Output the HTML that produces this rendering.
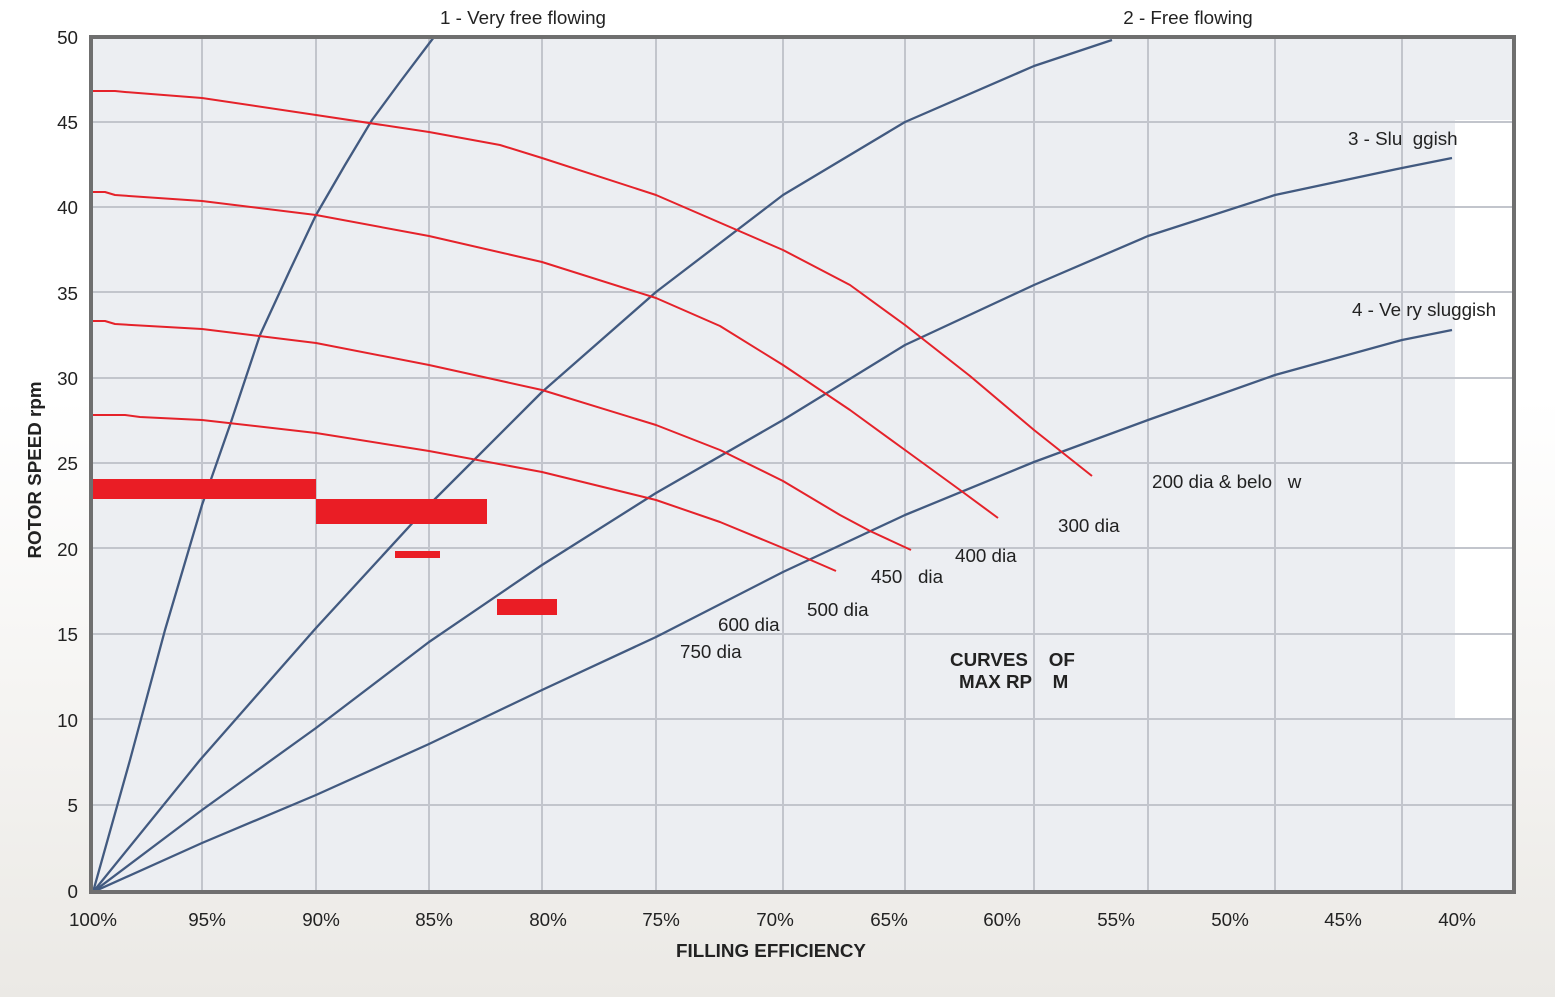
<!DOCTYPE html>
<html><head><meta charset="utf-8"><style>
html,body{margin:0;padding:0;}
body{width:1555px;height:997px;overflow:hidden;background:linear-gradient(#ffffff 0%,#ffffff 40%,#ebe9e5 100%);font-family:"Liberation Sans",sans-serif;}
text{white-space:pre;}
</style></head><body>
<svg width="1555" height="997" xmlns="http://www.w3.org/2000/svg" style="position:absolute;left:0;top:0">
<rect x="91" y="37" width="1423" height="855" fill="#eceef2"/>
<rect x="1455" y="120" width="59" height="600" fill="#ffffff"/>
<g stroke="#c2c5cc" stroke-width="2">
<line x1="202" y1="37" x2="202" y2="892"/><line x1="316" y1="37" x2="316" y2="892"/>
<line x1="429" y1="37" x2="429" y2="892"/><line x1="542" y1="37" x2="542" y2="892"/>
<line x1="656" y1="37" x2="656" y2="892"/><line x1="783" y1="37" x2="783" y2="892"/>
<line x1="905" y1="37" x2="905" y2="892"/><line x1="1034" y1="37" x2="1034" y2="892"/>
<line x1="1148" y1="37" x2="1148" y2="892"/><line x1="1275" y1="37" x2="1275" y2="892"/>
<line x1="1402" y1="37" x2="1402" y2="892"/>
<line x1="91" y1="122" x2="1514" y2="122"/><line x1="91" y1="207" x2="1514" y2="207"/>
<line x1="91" y1="292" x2="1514" y2="292"/><line x1="91" y1="378" x2="1514" y2="378"/>
<line x1="91" y1="463" x2="1514" y2="463"/><line x1="91" y1="548" x2="1514" y2="548"/>
<line x1="91" y1="634" x2="1514" y2="634"/><line x1="91" y1="719" x2="1514" y2="719"/>
<line x1="91" y1="805" x2="1514" y2="805"/>
</g>
<g fill="none" stroke="#425a80" stroke-width="2.3" stroke-linejoin="round">
<polyline points="93,892 130,760 165,630 202,505 230,425 260,335 290,270 316,215 345,165 372,120 400,82 434,37"/>
<polyline points="93,892 200,760 316,628 429,505 542,392 656,292 783,195 905,122 1034,66 1112,40"/>
<polyline points="93,892 202,810 316,728 429,642 542,565 656,493 783,420 905,345 1034,285 1148,236 1275,195 1402,168 1452,158"/>
<polyline points="93,892 202,843 316,795 429,744 542,690 656,637 783,572 905,515 1034,462 1148,420 1275,375 1402,340 1452,330"/>
</g>
<g fill="none" stroke="#e5222a" stroke-width="2" stroke-linejoin="round">
<polyline points="93,91 115,91 125,92 202,98 316,115 429,132 500,145 542,158 656,195 783,250 850,285 905,325 970,376 1034,430 1092,476"/>
<polyline points="93,192 105,192 115,195 202,201 316,215 429,236 542,262 656,298 720,326 783,365 850,410 905,450 960,490 998,518"/>
<polyline points="93,321 105,321 115,324 202,329 316,343 429,365 542,390 656,425 720,450 783,481 840,515 870,531 911,550"/>
<polyline points="93,415 125,415 140,417 202,420 316,433 429,451 542,472 656,500 720,522 783,548 836,571"/>
</g>
<g fill="#ea1d25">
<rect x="91" y="479" width="225" height="20"/>
<rect x="316" y="499" width="171" height="25"/>
<rect x="395" y="551" width="45" height="7"/>
<rect x="497" y="599" width="60" height="16"/>
</g>
<path d="M91,37 H1514 V892 H91 Z" fill="none" stroke="#6f6f6f" stroke-width="4"/>
<g font-family="Liberation Sans, sans-serif" font-size="18.8" fill="#222" xml:space="preserve">
<g text-anchor="end">
<text x="78" y="44">50</text><text x="78" y="129">45</text><text x="78" y="214">40</text>
<text x="78" y="300">35</text><text x="78" y="385">30</text><text x="78" y="470">25</text>
<text x="78" y="556">20</text><text x="78" y="641">15</text><text x="78" y="727">10</text>
<text x="78" y="812">5</text><text x="78" y="898">0</text>
</g>
<g text-anchor="middle">
<text x="93" y="926">100%</text><text x="207" y="926">95%</text><text x="321" y="926">90%</text>
<text x="434" y="926">85%</text><text x="548" y="926">80%</text><text x="661" y="926">75%</text>
<text x="775" y="926">70%</text><text x="889" y="926">65%</text><text x="1002" y="926">60%</text>
<text x="1116" y="926">55%</text><text x="1230" y="926">50%</text><text x="1343" y="926">45%</text>
<text x="1457" y="926">40%</text>
<text x="771" y="957" font-weight="bold">FILLING EFFICIENCY</text>
<text x="523" y="24">1 - Very free flowing</text>
<text x="1188" y="24">2 - Free flowing</text>
</g>
<text transform="translate(41,470) rotate(-90)" text-anchor="middle" font-weight="bold">ROTOR SPEED rpm</text>
<text x="1348" y="145">3 - Slu  ggish</text>
<text x="1352" y="316">4 - Ve ry sluggish</text>
<text x="1152" y="488">200 dia &amp; belo   w</text>
<text x="1058" y="532">300 dia</text>
<text x="955" y="562">400 dia</text>
<text x="871" y="583">450   dia</text>
<text x="807" y="616">500 dia</text>
<text x="718" y="631">600 dia</text>
<text x="680" y="658">750 dia</text>
<text x="950" y="666" font-weight="bold">CURVES    OF</text>
<text x="959" y="688" font-weight="bold">MAX RP    M</text>
</g>
</svg>
</body></html>
